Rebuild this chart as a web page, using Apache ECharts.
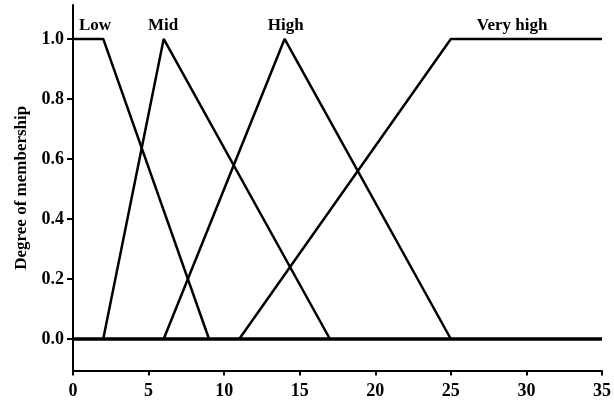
<!DOCTYPE html>
<html>
<head>
<meta charset="utf-8">
<script src="https://cdn.jsdelivr.net/npm/echarts@6/dist/echarts.min.js"></script>
<style>html,body{margin:0;padding:0;background:#fff}#c{width:614px;height:402px}</style>
</head>
<body>
<div id="c"></div>
<script>
var xTicks = [0, 5, 10, 15, 20, 25, 30, 35];
var yTicks = [0, 0.2, 0.4, 0.6, 0.8, 1.0];
var setNames = ['Low', 'Mid', 'High', 'Very high'];
var lowX = [0, 2, 9];      var lowY = [1, 1, 0];
var midX = [2, 6, 17];     var midY = [0, 1, 0];
var highX = [6, 14, 25];   var highY = [0, 1, 0];
var vhighX = [11, 25, 35]; var vhighY = [0, 1, 1];
var baseX = [0, 35];       var baseY = [0, 0];
var labelX = [1.46, 5.96, 14.07, 29.05];
var labelY = [1.043, 1.043, 1.043, 1.043];

function pts(xs, ys) { return xs.map(function (x, i) { return [x, ys[i]]; }); }
var font = 'Liberation Serif';
var lineSeries = function (name, xs, ys, w) {
  return { name: name, type: 'line', data: pts(xs, ys), symbol: 'none', silent: true,
    lineStyle: { color: '#000', width: w }, z: 3 };
};
var chart = echarts.init(document.getElementById('c'), null, { renderer: 'canvas' });
chart.setOption({
  animation: false,
  backgroundColor: '#fff',
  grid: { left: 73, right: 12, top: 5, bottom: 31.5 },
  xAxis: {
    type: 'value', min: 0, max: 35, interval: 5,
    axisLine: { onZero: false, lineStyle: { color: '#000', width: 2 } },
    axisTick: { show: true, length: 5, lineStyle: { color: '#000', width: 2 } },
    axisLabel: { color: '#000', fontFamily: font, fontWeight: 'bold', fontSize: 18, margin: 12,
      customValues: xTicks },
    splitLine: { show: false }
  },
  yAxis: {
    type: 'value', min: -0.105, max: 1.113,
    name: 'Degree of membership', nameLocation: 'middle', nameGap: 42,
    nameTextStyle: { color: '#000', fontFamily: font, fontSize: 17, fontWeight: 'bold' },
    axisLine: { show: true, onZero: false, lineStyle: { color: '#000', width: 2 } },
    axisTick: { show: true, length: 6, lineStyle: { color: '#000', width: 2 }, customValues: yTicks },
    axisLabel: { color: '#000', fontFamily: font, fontWeight: 'bold', fontSize: 18, margin: 9,
      customValues: yTicks, formatter: function (v) { return v.toFixed(1); } },
    splitLine: { show: false }
  },
  series: [
    lineSeries('base', baseX, baseY, 3.5),
    lineSeries(setNames[0], lowX, lowY, 2.5),
    lineSeries(setNames[1], midX, midY, 2.5),
    lineSeries(setNames[2], highX, highY, 2.5),
    lineSeries(setNames[3], vhighX, vhighY, 2.5),
    {
      type: 'scatter', symbolSize: 1, silent: true, z: 5,
      itemStyle: { color: 'rgba(0,0,0,0)' },
      data: labelX.map(function (x, i) { return { value: [x, labelY[i]], name: setNames[i] }; }),
      label: { show: true, position: 'inside', formatter: '{b}', color: '#000',
        textBorderWidth: 0, textBorderColor: 'transparent', opacity: 1,
        fontFamily: font, fontSize: 17, fontWeight: 'bold' }
    }
  ]
});
</script>
</body>
</html>
